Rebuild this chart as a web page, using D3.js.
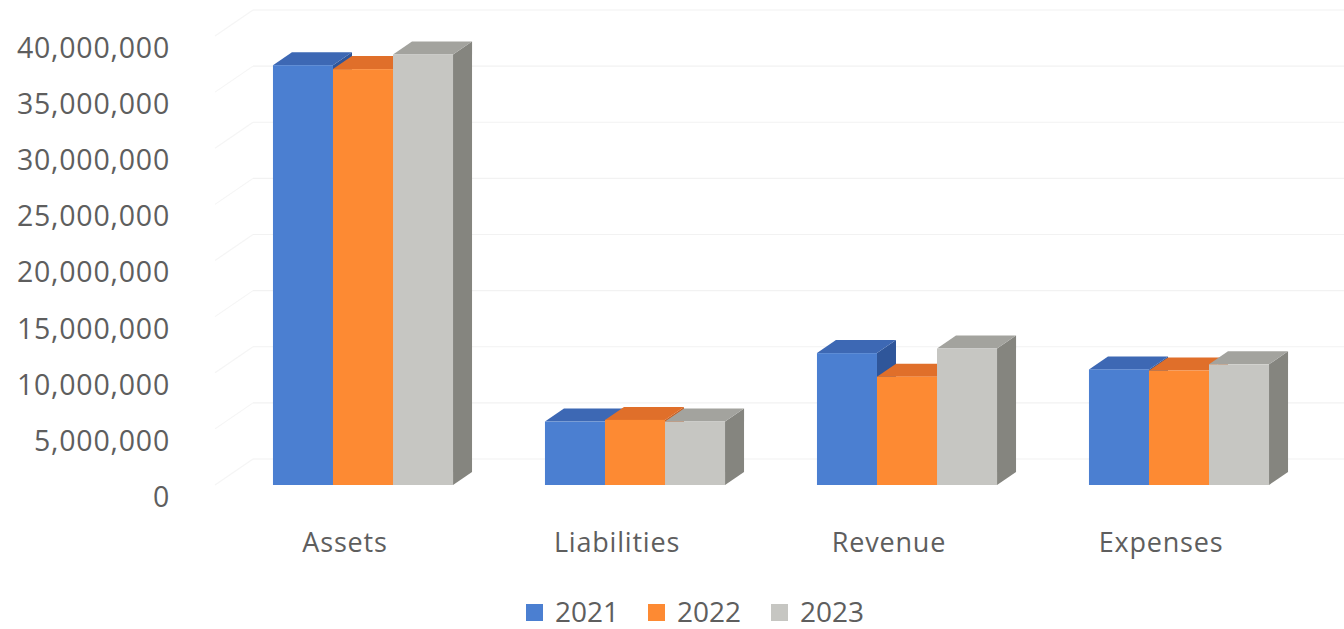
<!DOCTYPE html>
<html lang="en">
    <head>
        <meta charset="utf-8">
        <title>3D clustered columns</title>
        <script type="text/javascript" src="https://cdn.jsdelivr.net/npm/d3@7"></script>
        <style>
            body { margin: 0; background: #fff; }
            text { font-family: "Open Sans", sans-serif; fill: #5e5e5e; }
        </style>
    </head>
    <body>
        <script type="text/javascript">

            //Width and height
            var w = 1344;
            var h = 629;

            //Data
            var categories = ["Assets", "Liabilities", "Revenue", "Expenses"];
            var years = ["2021", "2022", "2023"];
            var values2021 = [37400000, 5650000, 11750000, 10300000];
            var values2022 = [37050000, 5800000, 9650000, 10200000];
            var values2023 = [38350000, 5650000, 12150000, 10750000];
            var yTicks = [0, 5000000, 10000000, 15000000, 20000000, 25000000, 30000000, 35000000, 40000000];

            var series = [values2021, values2022, values2023];

            //Colours: front, top, side
            var colors = [
                { front: "#4b7fd1", top: "#3d68b4", side: "#2f569a" },
                { front: "#fd8a33", top: "#e06f2a", side: "#c85f22" },
                { front: "#c6c6c2", top: "#a3a39e", side: "#85857f" }
            ];

            //Depth of a bar and of the back wall
            var bdx = 19, bdy = -13;
            var wdx = 38, wdy = -26;

            //Scales
            var xScale = d3.scaleBand()
                        .domain(categories)
                        .range([227, 1315])
                        .paddingInner(0.338)
                        .paddingOuter(0.169);

            var xSub = d3.scaleBand()
                        .domain(years)
                        .range([0, xScale.bandwidth()]);

            var yScale = d3.scaleLinear()
                        .domain([0, 40000000])
                        .range([485, 36]);

            //Label scale for the axis text (sits a little lower, on the left wall)
            var yLabel = d3.scaleLinear()
                        .domain([0, 40000000])
                        .range([497, 48]);

            var fmt = d3.format(",");

            var svg = d3.select("body")
                        .append("svg")
                        .attr("width", w)
                        .attr("height", h);

            //Back wall gridlines
            svg.append("g")
                .selectAll("line")
                .data(yTicks)
                .enter()
                .append("line")
                .attr("x1", 215 + wdx)
                .attr("x2", w)
                .attr("y1", function(d) { return yScale(d) + wdy; })
                .attr("y2", function(d) { return yScale(d) + wdy; })
                .attr("stroke", "#f2f2f2")
                .attr("stroke-width", 1.2);

            //Side wall gridlines
            svg.append("g")
                .selectAll("line")
                .data(yTicks)
                .enter()
                .append("line")
                .attr("x1", 215)
                .attr("x2", 215 + wdx)
                .attr("y1", function(d) { return yScale(d); })
                .attr("y2", function(d) { return yScale(d) + wdy; })
                .attr("stroke", "#f5f5f5")
                .attr("stroke-width", 1.2);

            //Y axis labels
            svg.append("g")
                .selectAll("text")
                .data(yTicks)
                .enter()
                .append("text")
                .attr("x", 170)
                .attr("y", function(d) { return yLabel(d); })
                .attr("dy", "0.35em")
                .attr("text-anchor", "end")
                .attr("font-size", "28.5px")
                .attr("letter-spacing", "0.8px")
                .text(function(d) { return fmt(d); });

            //Bars, drawn left to right so each front face covers the side of the bar before it
            var bars = [];
            categories.forEach(function(c, i) {
                years.forEach(function(y, j) {
                    bars.push({ cat: c, year: y, s: j, value: series[j][i] });
                });
            });

            var g = svg.append("g")
                .selectAll("g")
                .data(bars)
                .enter()
                .append("g");

            g.each(function(d) {
                var x0 = xScale(d.cat) + xSub(d.year);
                var x1 = x0 + xSub.bandwidth();
                var y0 = yScale(0);
                var y1 = yScale(d.value);
                var sel = d3.select(this);
                var col = colors[d.s];

                //side
                sel.append("polygon")
                    .attr("points", [
                        [x1, y1], [x1 + bdx, y1 + bdy], [x1 + bdx, y0 + bdy], [x1, y0]
                    ].join(" "))
                    .attr("fill", col.side);

                //top
                sel.append("polygon")
                    .attr("points", [
                        [x0, y1], [x0 + bdx, y1 + bdy], [x1 + bdx, y1 + bdy], [x1, y1]
                    ].join(" "))
                    .attr("fill", col.top);

                //front
                sel.append("rect")
                    .attr("x", x0)
                    .attr("y", y1)
                    .attr("width", x1 - x0)
                    .attr("height", y0 - y1)
                    .attr("fill", col.front);
            });

            //Category labels
            svg.append("g")
                .selectAll("text")
                .data(categories)
                .enter()
                .append("text")
                .attr("x", function(d) { return xScale(d) + xScale.bandwidth() / 2 - 18; })
                .attr("y", 543)
                .attr("dy", "0.35em")
                .attr("text-anchor", "middle")
                .attr("font-size", "27px")
                .attr("letter-spacing", "0.8px")
                .text(function(d) { return d; });

            //Legend
            var legendX = [526, 648, 771];
            var legend = svg.append("g")
                .selectAll("g")
                .data(years)
                .enter()
                .append("g")
                .attr("transform", function(d, i) { return "translate(" + legendX[i] + ",612)"; });

            legend.append("rect")
                .attr("x", 0)
                .attr("y", -8)
                .attr("width", 17)
                .attr("height", 17)
                .attr("fill", function(d, i) { return colors[i].front; });

            legend.append("text")
                .attr("x", 29)
                .attr("y", 0)
                .attr("dy", "0.35em")
                .attr("font-size", "28px")
                .text(function(d) { return d; });

        </script>
    </body>
</html>
